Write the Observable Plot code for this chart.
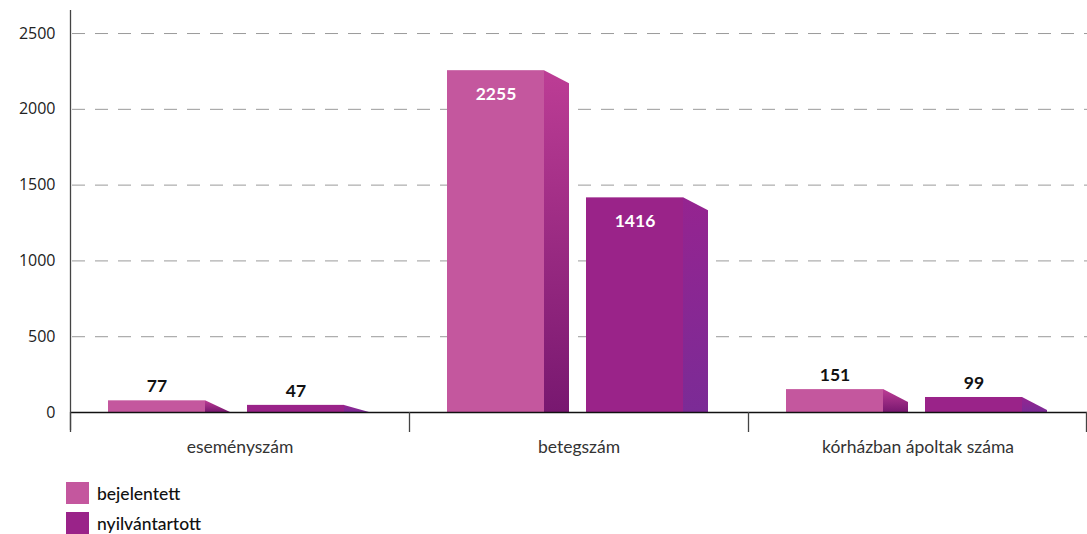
<!DOCTYPE html>
<html>
<head>
<meta charset="utf-8">
<script src="https://cdn.jsdelivr.net/npm/d3@7"></script>
<script src="https://cdn.jsdelivr.net/npm/@observablehq/plot@0.6"></script>
<style>
  html, body { margin: 0; padding: 0; background: #fff; overflow: hidden; }
  #chart { width: 1087px; }
  .legend { font-family: Lato, "Open Sans", sans-serif; font-size: 17.5px; font-weight: 500; color: #111; padding-left: 66px; margin-top: 8px; }
  .legend .item { display: flex; align-items: center; height: 30px; }
  .legend .sw { width: 23px; height: 22px; margin-right: 8px; }
</style>
</head>
<body>
<div id="chart"></div>
<script>
// ---- data ----
const categories = ["eseményszám", "betegszám", "kórházban ápoltak száma"];
const seriesNames = ["bejelentett", "nyilvántartott"];
const bejelentett = [77, 2255, 151];
const nyilvantartott = [47, 1416, 99];
const yTicks = [0, 500, 1000, 1500, 2000, 2500];

// ---- styles / layout ----
const frontColors = ["#C4579E", "#9A2389"];
const W = 1087, H = 470;
const mL = 70, mR = 0, mT = 10, mB = 58;
const bw = (W - mL - mR) / categories.length; // band width per category
const frontW = 97, sideW = 25, offL = [38, 177], slope = 13;
const yMax = 2652;
const labelInsideThreshold = 1000;

const rows = [];
categories.forEach((c, i) => {
  rows.push({cat: c, s: 0, v: bejelentett[i]});
  rows.push({cat: c, s: 1, v: nyilvantartott[i]});
});

const marks = [];
// gridlines
marks.push(Plot.ruleY(yTicks.filter(d => d > 0), {
  stroke: "#9a9a9a", strokeWidth: 1, strokeDasharray: "13,10", insetLeft: 2
}));
[0, 1].forEach(s => {
  const data = rows.filter(r => r.s === s);
  const l = offL[s];
  marks.push(Plot.barY(data, {
    x: "cat", y: "v", fill: frontColors[s],
    insetLeft: l, insetRight: bw - l - frontW
  }));
  marks.push(Plot.barY(data, {
    x: "cat", y: "v", fill: `url(#side${s})`,
    insetLeft: l + frontW, insetRight: bw - l - frontW - sideW,
    ariaDescription: "side"
  }));
  // value labels
  marks.push(Plot.text(data.filter(d => d.v >= labelInsideThreshold), {
    x: "cat", y: "v", text: d => String(d.v), fill: "white",
    dx: l + frontW / 2 - bw / 2, dy: 24,
    fontSize: 17.5, fontWeight: "bold", fontFamily: "Lato, sans-serif"
  }));
  marks.push(Plot.text(data.filter(d => d.v < labelInsideThreshold), {
    x: "cat", y: "v", text: d => String(d.v), fill: "#111",
    dx: l + frontW / 2 - bw / 2, dy: -14,
    fontSize: 17.5, fontWeight: "bold", fontFamily: "Lato, sans-serif"
  }));
});
// baseline
marks.push(Plot.ruleY([0], {stroke: "#111", strokeWidth: 1.3}));
// y axis line
marks.push(Plot.ruleX([categories[0]], {
  x: d => d, y1: yMax, y2: 0, dx: -bw / 2, insetBottom: -18,
  stroke: "#444", strokeWidth: 1.3
}));
// category separator ticks
marks.push(Plot.ruleX(categories, {
  x: d => d, y1: 0, y2: 0, dx: -bw / 2, insetTop: 0, insetBottom: -20,
  stroke: "#444", strokeWidth: 1.3
}));
marks.push(Plot.ruleX([categories[categories.length - 1]], {
  x: d => d, y1: 0, y2: 0, dx: bw / 2 - 1, insetTop: 0, insetBottom: -20,
  stroke: "#444", strokeWidth: 1.3
}));
marks.push(Plot.axisX({
  tickSize: 0, tickPadding: 28, fontSize: 17.5, fill: "#333", label: null,
  fontFamily: "Lato, sans-serif"
}));
marks.push(Plot.axisY({
  ticks: yTicks, tickFormat: d => String(d), tickSize: 0, tickPadding: 15,
  fontSize: 16, fill: "#222", label: null, fontFamily: "'Open Sans', sans-serif"
}));

const chart = Plot.plot({
  width: W, height: H,
  marginLeft: mL, marginRight: mR, marginTop: mT, marginBottom: mB,
  x: {type: "band", domain: categories, padding: 0},
  y: {domain: [0, yMax], ticks: yTicks},
  style: {background: "white", overflow: "visible"},
  marks
});

// gradients for side faces
const ns = "http://www.w3.org/2000/svg";
const defs = document.createElementNS(ns, "defs");
const grads = [["#BD3D95", "#781870"], ["#952490", "#7B2B96"]];
grads.forEach((g, i) => {
  const lg = document.createElementNS(ns, "linearGradient");
  lg.setAttribute("id", "side" + i);
  lg.setAttribute("x1", "0"); lg.setAttribute("y1", "0");
  lg.setAttribute("x2", "0"); lg.setAttribute("y2", "1");
  [[0, g[0]], [1, g[1]]].forEach(([o, c]) => {
    const st = document.createElementNS(ns, "stop");
    st.setAttribute("offset", o); st.setAttribute("stop-color", c);
    lg.appendChild(st);
  });
  defs.appendChild(lg);
});
chart.insertBefore(defs, chart.firstChild);

// turn side rects into slanted 3D faces
chart.querySelectorAll('g[aria-description="side"] rect').forEach(r => {
  const x = +r.getAttribute("x"), y = +r.getAttribute("y");
  const w = +r.getAttribute("width"), h = +r.getAttribute("height");
  const b = y + h;
  const p = document.createElementNS(ns, "path");
  const yr = Math.min(y + slope, b);
  p.setAttribute("d", `M${x},${y}L${x + w},${yr}L${x + w},${b}L${x},${b}Z`);
  for (const a of r.attributes) if (!["x","y","width","height"].includes(a.name)) p.setAttribute(a.name, a.value);
  r.replaceWith(p);
});

document.getElementById("chart").appendChild(chart);

// legend
const leg = document.createElement("div");
leg.className = "legend";
seriesNames.forEach((n, i) => {
  const it = document.createElement("div");
  it.className = "item";
  const sw = document.createElement("div");
  sw.className = "sw"; sw.style.background = frontColors[i];
  const t = document.createElement("span");
  t.textContent = n;
  it.appendChild(sw); it.appendChild(t);
  leg.appendChild(it);
});
document.getElementById("chart").appendChild(leg);
</script>
</body>
</html>
